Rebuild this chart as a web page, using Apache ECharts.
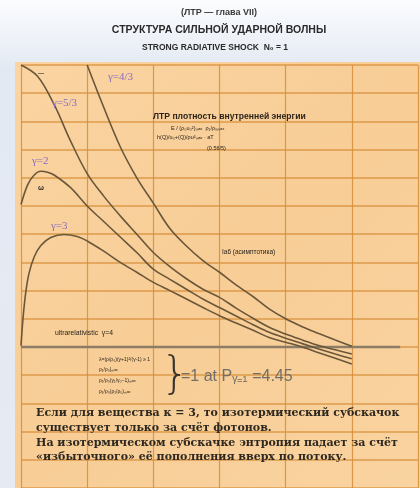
<!DOCTYPE html>
<html><head><meta charset="utf-8">
<script src="https://cdn.jsdelivr.net/npm/echarts@6/dist/echarts.min.js"></script>
<style>
html,body{margin:0;padding:0;}
body{width:420px;height:488px;background:linear-gradient(180deg,#fbfcfe 0%,#eef2f8 8%,#e3e9f3 14%,#e6eaf2 100%);}
#c{width:420px;height:488px;}
</style></head>
<body><div id="c"></div>
<script>
// ---- data ----
const titleLines = ["(ЛТР — глава VII)", "СТРУКТУРА СИЛЬНОЙ УДАРНОЙ ВОЛНЫ", "STRONG RADIATIVE SHOCK  N₀ = 1"];
const curveNames = ["γ=4/3", "γ=5/3", "γ=2", "γ=3"];
const x43 = [1.0,1.25,1.5,1.75,2.0,2.25,2.5,2.75,3.0,3.25,3.5,3.75,4.0,4.25,4.5,4.75,5.0];
const y43 = [10.0,8.5,7.1,6.0,5.1,4.2,3.58,3.06,2.65,2.2,1.8,1.35,1.0,0.72,0.48,0.25,0.03];
const x53 = [0,0.25,0.5,0.75,1.0,1.25,1.5,1.75,2.0,2.25,2.5,2.75,3.0,3.25,3.5,3.75,4.0,4.25,4.5,4.75,5.0];
const y53 = [10.0,9.6,8.6,7.3,6.15,5.35,4.65,4.0,3.35,2.85,2.42,2.05,1.76,1.38,1.03,0.7,0.46,0.25,0.05,-0.1,-0.25];
const x2 = [0,0.1,0.2,0.3,0.4,0.5,0.75,1.0,1.25,1.5,1.75,2.0,2.25,2.5,2.75,3.0,3.25,3.5,3.75,4.0,4.25,4.5,4.75,5.0];
const y2 = [5.05,5.75,6.1,6.23,6.2,6.1,5.65,5.0,4.45,3.9,3.35,2.76,2.4,2.05,1.7,1.40,1.1,0.8,0.52,0.31,0.12,-0.07,-0.25,-0.42];
const x3 = [0,0.03,0.07,0.12,0.2,0.3,0.45,0.65,0.85,1.0,1.25,1.5,1.75,2.0,2.25,2.5,2.75,3.0,3.25,3.5,3.75,4.0,4.25,4.5,4.75,5.0];
const y3 = [0.05,1.0,1.9,2.6,3.2,3.6,3.88,3.99,3.92,3.76,3.4,3.0,2.65,2.29,2.0,1.7,1.4,1.11,0.85,0.6,0.34,0.17,0.0,-0.2,-0.4,-0.6];
const baseLine = [[0,0],[5.73,0]];
const noteLines = [
  "Если для вещества к = 3, то изотермический субскачок",
  "существует только за счёт фотонов.",
  "На изотермическом субскачке энтропия падает за счёт",
  "«избыточного» её пополнения вверх по потоку."
];

const pair = (xs, ys) => xs.map((x, i) => [x, ys[i]]);
const curveColor = '#6a573a';
const gridColor = '#d68d36';
const purple = '#8a6cc2';

function txt(x, y, text, style, extra) {
  return Object.assign({type:'text', x:x, y:y, z:20, style:Object.assign({text:text, fill:'#2b241b', fontFamily:'Liberation Sans', fontSize:7, textVerticalAlign:'middle'}, style)}, extra||{});
}

const chart = echarts.init(document.getElementById('c'), null, {renderer:'canvas'});
const lineSeries = (name, d) => ({
  name:name, type:'line', data:d, smooth:0.35, showSymbol:false, symbol:'none',
  lineStyle:{color:curveColor, width:1.6}, z:5
});

chart.setOption({
  backgroundColor:'transparent',
  animation:false,
  grid:{left:21, top:65, width:397, height:424.5, show:false},
  xAxis:{type:'value', min:0, max:6, interval:1,
    axisLine:{show:false}, axisTick:{show:false}, axisLabel:{show:false},
    splitLine:{show:true, lineStyle:{color:gridColor, width:1.2, opacity:0.85}}},
  yAxis:{type:'value', min:-5, max:10, interval:1,
    axisLine:{show:false}, axisTick:{show:false}, axisLabel:{show:false},
    splitLine:{show:true, lineStyle:{color:gridColor, width:1.6, opacity:0.8}}},
  series:[
    lineSeries(curveNames[0], pair(x43, y43)),
    lineSeries(curveNames[1], pair(x53, y53)),
    lineSeries(curveNames[2], pair(x2, y2)),
    lineSeries(curveNames[3], pair(x3, y3)),
    {type:'line', data:[], markLine:{silent:true, symbol:'none', label:{show:false},
      lineStyle:{color:'#8d7c66', width:2.4, type:'solid'},
      data:[[{coord:baseLine[0]},{coord:baseLine[1]}]]}}
  ],
  graphic:[
    {type:'rect', z:-5, shape:{x:15, y:62, width:405, height:426},
      style:{fill:new echarts.graphic.LinearGradient(0,0,1,1,[
        {offset:0,color:'#fad4a2'},{offset:0.5,color:'#f8cd96'},{offset:1,color:'#f9d3a0'}])}},
    // title
    txt(219, 13, titleLines[0], {fontSize:9, fontWeight:'bold', textAlign:'center', fill:'#3a3a3a'}),
    txt(219, 30, titleLines[1], {fontSize:10.5, fontWeight:'bold', textAlign:'center', fill:'#2a2a2a'}),
    txt(215, 48, titleLines[2], {fontSize:8.5, fontWeight:'bold', textAlign:'center', fill:'#2a2a2a'}),
    // curve labels
    txt(108, 77, curveNames[0], {fontFamily:'Liberation Serif', fontSize:11, fill:purple}),
    txt(52, 103, curveNames[1], {fontFamily:'Liberation Serif', fontSize:11, fill:purple}),
    txt(32, 161, curveNames[2], {fontFamily:'Liberation Serif', fontSize:11, fill:purple}),
    txt(51, 226, curveNames[3], {fontFamily:'Liberation Serif', fontSize:11, fill:purple}),
    txt(38, 73, '—', {fontSize:6, fontWeight:'bold'}),
    txt(38, 188, 'ω', {fontSize:7, fontWeight:'bold'}),
    // annotations
    txt(153, 117, 'ЛТР плотность внутренней энергии', {fontSize:8.6, fontWeight:'bold'}),
    txt(171, 128, 'E / (ρ₀u₀²)ₘₐₓ  ρ₁/ρ₀ₘₐₓ', {fontSize:5.5}),
    txt(157, 137, 'h(Q)/u₀+(Q)/ρu²ₘₐₓ · aT', {fontSize:5.5}),
    txt(207, 148, '(0.56/5)', {fontSize:5.5}),
    txt(222, 252, 'Ia6 (асимптотика)', {fontSize:6.5}),
    txt(55, 333, 'ultrarelativistic  γ=4', {fontSize:6.8}),
    txt(99, 360, 'λ=(ρ/ρ₀)(γ+1)²/(γ-1) ≥ 1', {fontSize:5}),
    txt(99, 370, 'ρ₁/ρ₀|ₘₐₓ', {fontSize:5}),
    txt(99, 381, 'ρ₁/ρ₀(γ₁/γ₀−1)ₘₐₓ', {fontSize:5}),
    txt(99, 392, 'ρ₁/ρ₀(ρ₁/ρ₀)ₘₐₓ', {fontSize:5}),
    txt(161, 377, '}', {fontSize:44, fontFamily:'DejaVu Sans', fontWeight:'lighter', fill:'#3a3630'}),
    txt(181, 377, '=1 at Pᵧ₌₁ =4.45', {fontSize:16, fill:'#726d66'}),
    // notes
    txt(36, 413, noteLines[0], {fontFamily:'DejaVu Serif', fontSize:11, fontWeight:'bold', fill:'#2e2820'}),
    txt(36, 428, noteLines[1], {fontFamily:'DejaVu Serif', fontSize:11, fontWeight:'bold', fill:'#2e2820'}),
    txt(36, 443, noteLines[2], {fontFamily:'DejaVu Serif', fontSize:11, fontWeight:'bold', fill:'#2e2820'}),
    txt(36, 457, noteLines[3], {fontFamily:'DejaVu Serif', fontSize:11, fontWeight:'bold', fill:'#2e2820'}),
    // y axis label
    txt(8, 290, 'плотность энергии, отн. ед.', {fontSize:5.5, textAlign:'center', fill:'#4a4a4a'}, {rotation:Math.PI/2, originX:8, originY:290}),
    txt(8, 223, 'f', {fontSize:6, textAlign:'center', fontWeight:'bold'}, {rotation:Math.PI/2, originX:8, originY:223})
  ]
});
</script>
</body></html>
